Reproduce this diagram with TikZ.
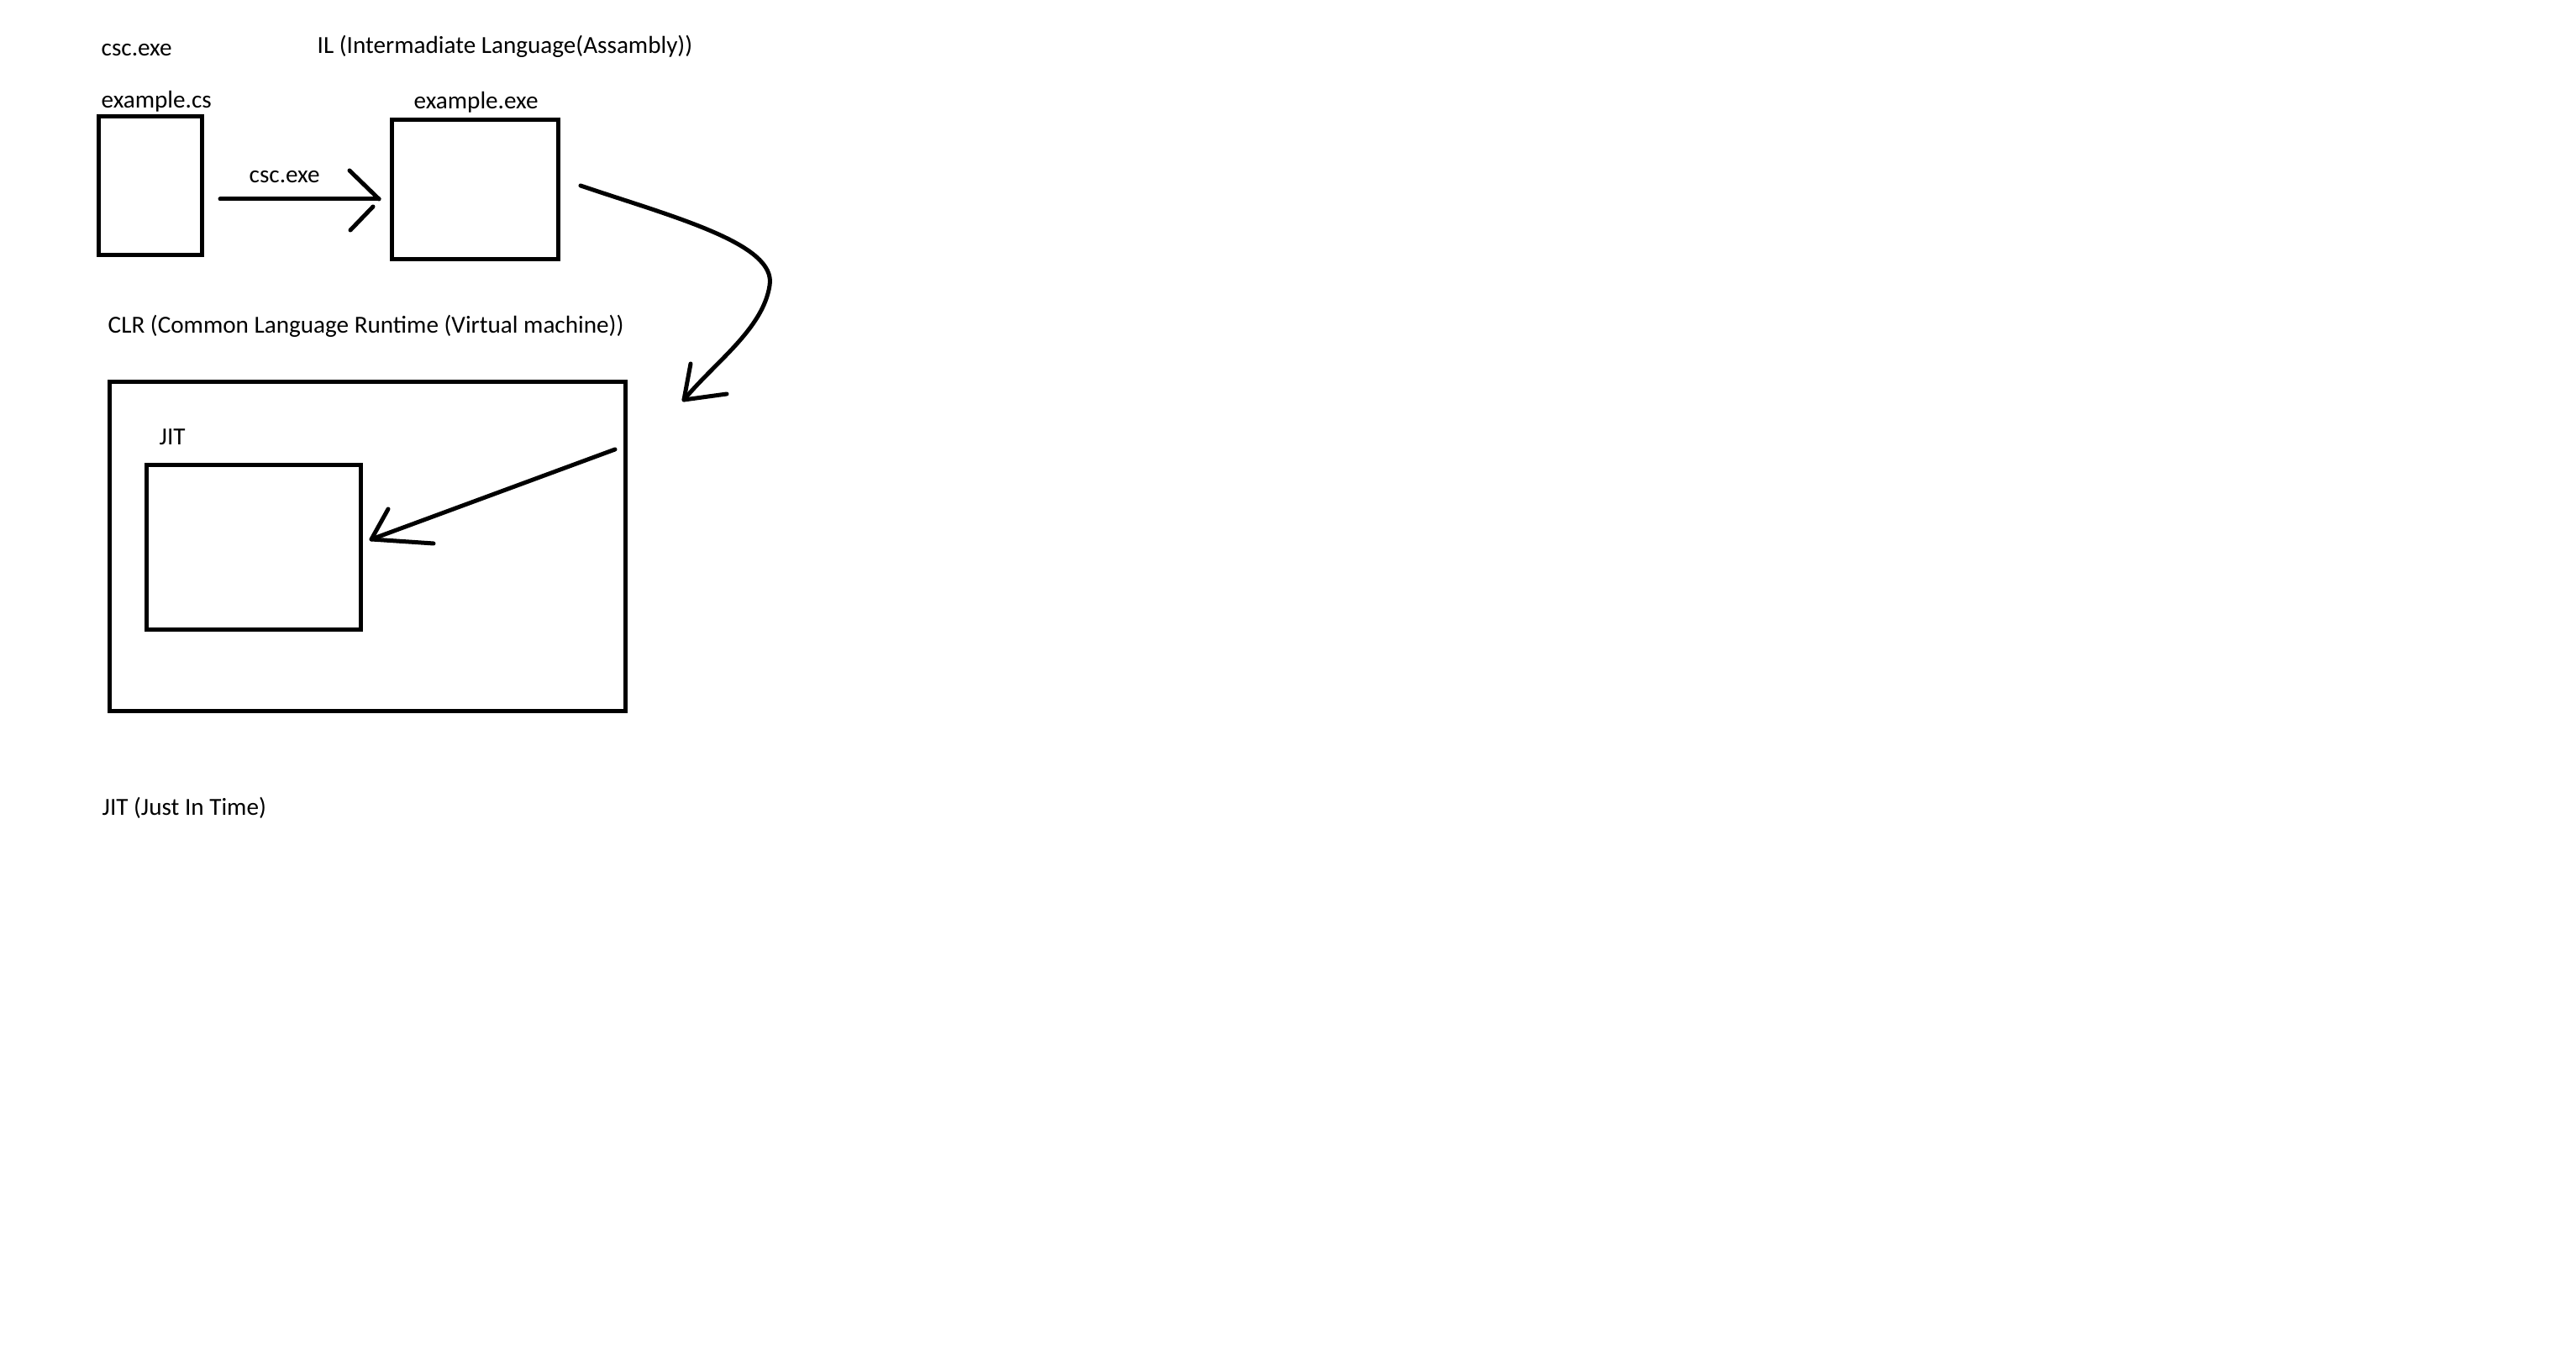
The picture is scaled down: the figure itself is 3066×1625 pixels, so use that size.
\documentclass[tikz,border=0pt]{standalone}
\usepackage{fontspec}
\setmainfont{Carlito}
\begin{document}
\begin{tikzpicture}[x=0.1mm,y=-0.1mm,
  lbl/.style={anchor=base west,inner sep=0pt,font=\fontsize{8.3}{10}\selectfont},
  box/.style={draw,line width=0.5mm,anchor=north west,inner sep=0pt},
  pen/.style={line width=0.5mm,line cap=round,line join=round}]
\useasboundingbox[fill=white] (0,0) rectangle (3066,1625);
% labels
\node[lbl] (t1) at (120,67) {csc.exe};
\node[lbl] (t2) at (377,64) {IL (Intermadiate Language(Assambly))};
\node[lbl] (t3) at (120,129) {example.cs};
\node[lbl] (t4) at (296,218) {csc.exe};
\node[lbl] (t5) at (492,130) {example.exe};
\node[lbl] (t6) at (128,397) {CLR (Common Language Runtime (Virtual machine))};
\node[lbl] (t7) at (189,530) {JIT};
\node[lbl] (t8) at (121,971) {JIT (Just In Time)};
% boxes
\node[box,minimum width=12.3mm,minimum height=16.5mm] (cs) at (115,136) {};
\node[box,minimum width=19.8mm,minimum height=16.6mm] (exe) at (464,140) {};
\node[box,minimum width=61.4mm,minimum height=39.2mm] (clr) at (128,452) {};
\node[box,minimum width=25.5mm,minimum height=19.6mm] (jit) at (172,551) {};
% arrow 1
\coordinate (a1s) at (262,237);
\coordinate (a1t) at (451,237);
\coordinate (a1h1) at (416,203);
\coordinate (a1h2a) at (444,246);
\coordinate (a1h2b) at (417,274);
\draw[pen] (a1s) -- (a1t);
\draw[pen] (a1h1) -- (a1t);
\draw[pen] (a1h2a) -- (a1h2b);
% curved arrow
\coordinate (c1s) at (691,221);
\coordinate (c1m) at (916,340);
\coordinate (c1t) at (814,476);
\coordinate (c1h1) at (822,433);
\coordinate (c1h2) at (865,469);
\draw[pen] (c1s) .. controls (800,258) and (925,290) .. (c1m) .. controls (908,392) and (850,432) .. (c1t);
\draw[pen] (c1h1) -- (c1t) -- (c1h2);
% arrow into JIT
\coordinate (a3s) at (732,535);
\coordinate (a3t) at (442,642);
\coordinate (a3h1) at (462,606);
\coordinate (a3h2) at (516,647);
\draw[pen] (a3s) -- (a3t);
\draw[pen] (a3h1) -- (a3t) -- (a3h2);
\end{tikzpicture}
\end{document}
